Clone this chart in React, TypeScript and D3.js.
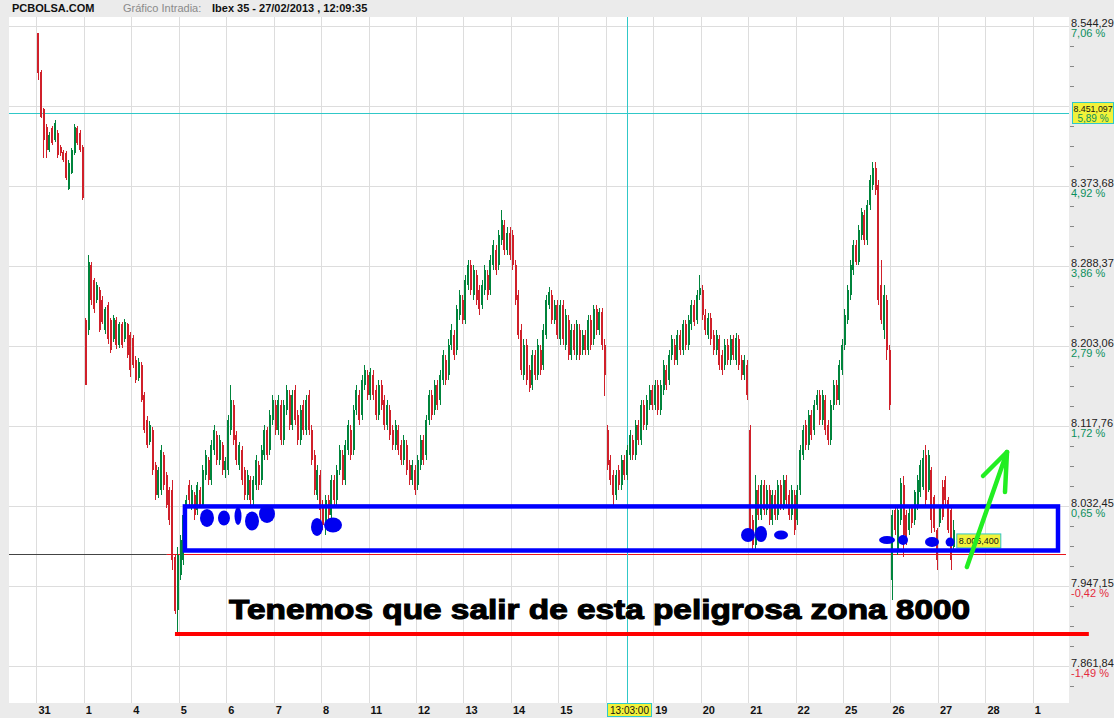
import React from 'react';
import * as d3 from 'd3';

// ---------- DATA ----------
const dayLabels = ["31","1","4","5","6","7","8","11","12","13","14","15","18","19","20","21","22","25","26","27","28","1"];
const priceTicks = [8544.29, 8458.99, 8373.68, 8288.37, 8203.06, 8117.76, 8032.45, 7947.15, 7861.84];
const priceTickLabels = ["8.544,29","8.458,99","8.373,68","8.288,37","8.203,06","8.117,76","8.032,45","7.947,15","7.861,84"];
const pctLabels = ["7,06 %","5,99 %","4,92 %","3,86 %","2,79 %","1,72 %","0,65 %","-0,42 %","-1,49 %"];
const prevClose = 7980.8;
const cursorLevel = 8451.097;
const cursorLevelLabel = "8.451,097";
const cursorLevelPct = "5,89 %";
const cursorDayPos = 12.447;
const cursorTimeLabel = "13:03:00";
const lastPriceLabel = "8.006,400";
const headerBrand = "PCBOLSA.COM";
const headerKind = "Gráfico Intradia:";
const headerTitle = "Ibex 35 - 27/02/2013 , 12:09:35";
const annotationText = "Tenemos que salir de esta peligrosa zona 8000";

// candles per session: [open, high, low, close]
const d31 = [
[8537,8537,8487,8494],[8495,8497,8446,8447],[8456,8457,8404,8423],[8437,8440,8404,8412],
[8412,8431,8410,8428],[8435,8438,8417,8419],[8423,8444,8421,8441],[8430,8433,8404,8407],
[8415,8417,8406,8409],[8410,8412,8399,8401],[8409,8411,8380,8382],[8371,8401,8369,8398],
[8388,8414,8386,8412],[8409,8440,8407,8437],[8435,8438,8417,8419],[8430,8433,8410,8412],
[8415,8417,8359,8361]];
const d01 = [
[8231,8233,8161,8162],[8220,8300,8215,8293],[8289,8293,8247,8252],[8273,8276,8238,8242],
[8252,8271,8249,8268],[8263,8266,8218,8220],[8252,8256,8226,8229],[8220,8245,8216,8242],
[8247,8250,8205,8210],[8231,8233,8196,8199],[8210,8236,8207,8233],[8231,8234,8200,8204],
[8204,8229,8201,8226],[8226,8229,8201,8204],[8210,8232,8207,8229],[8226,8228,8190,8194],
[8215,8218,8170,8178]];
const d04 = [
[8212,8215,8180,8183],[8188,8192,8164,8167],[8169,8190,8166,8186],[8183,8186,8143,8146],
[8151,8154,8110,8114],[8124,8128,8094,8098],[8101,8123,8097,8119],[8114,8117,8066,8071],
[8076,8079,8039,8044],[8044,8074,8041,8071],[8050,8098,8044,8092],[8087,8090,8050,8055],
[8066,8069,8030,8034],[8050,8053,8012,8018],[8050,8060,7964,7975],[7978,7980,7917,7920],
[7922,7989,7896,7980]];
const d05 = [
[7959,8001,7954,7996],[7975,8028,7970,8023],[8007,8044,8002,8039],[8055,8060,8034,8039],
[8034,8055,8028,8050],[8044,8047,8018,8023],[8028,8058,8023,8055],[8050,8053,8030,8034],
[8034,8076,8030,8071],[8066,8092,8060,8087],[8082,8085,8055,8060],[8060,8103,8055,8098],
[8092,8119,8087,8114],[8108,8112,8076,8082],[8082,8108,8076,8103],[8098,8101,8066,8071],
[8071,8085,8062,8080]];
const d06 = [
[8071,8130,8066,8124],[8114,8162,8108,8146],[8140,8146,8098,8103],[8108,8112,8076,8082],
[8076,8101,8071,8098],[8092,8096,8055,8060],[8071,8074,8039,8044],[8044,8071,8039,8066],
[8060,8064,8034,8039],[8039,8064,8034,8060],[8055,8087,8050,8082],[8076,8080,8050,8055],
[8060,8098,8055,8092],[8087,8119,8082,8114],[8114,8117,8082,8087],[8092,8135,8087,8130],
[8124,8151,8119,8146]];
const d07 = [
[8140,8146,8108,8114],[8114,8151,8108,8146],[8140,8146,8098,8103],[8103,8146,8098,8140],
[8135,8162,8130,8156],[8151,8156,8114,8119],[8119,8156,8114,8151],[8156,8162,8119,8124],
[8130,8135,8098,8103],[8103,8140,8098,8135],[8140,8146,8108,8114],[8114,8151,8108,8146],
[8151,8156,8108,8114],[8114,8119,8076,8082],[8087,8092,8044,8050],[8044,8076,8039,8071],
[8066,8071,8018,8028]];
const d08 = [
[8034,8039,8007,8012],[8012,8044,8002,8039],[8039,8044,8018,8023],[8023,8066,8018,8060],
[8060,8066,8034,8039],[8039,8076,8034,8071],[8071,8098,8066,8092],[8087,8092,8055,8060],
[8060,8103,8055,8098],[8092,8124,8087,8119],[8114,8119,8082,8087],[8092,8140,8087,8135],
[8135,8162,8130,8156],[8151,8156,8119,8124],[8130,8172,8124,8167],[8162,8183,8156,8178],
[8172,8178,8146,8151]];
const d11 = [
[8151,8180,8146,8175],[8172,8178,8146,8151],[8156,8162,8124,8130],[8130,8167,8124,8162],
[8162,8167,8135,8140],[8146,8151,8114,8119],[8119,8146,8114,8140],[8135,8140,8103,8108],
[8114,8119,8092,8098],[8098,8124,8092,8119],[8114,8119,8087,8092],[8098,8103,8076,8082],
[8082,8108,8076,8103],[8098,8103,8066,8071],[8076,8082,8055,8060],[8060,8082,8055,8076],
[8071,8076,8044,8050]];
const d12 = [
[8055,8087,8050,8082],[8076,8108,8071,8103],[8103,8108,8076,8082],[8087,8130,8082,8124],
[8124,8156,8119,8151],[8151,8156,8124,8130],[8135,8167,8130,8162],[8162,8167,8135,8140],
[8146,8178,8140,8172],[8167,8199,8162,8194],[8188,8194,8162,8167],[8172,8210,8167,8204],
[8204,8226,8199,8220],[8215,8220,8188,8194],[8199,8247,8194,8242],[8236,8263,8231,8257],
[8252,8257,8226,8231]];
const d13 = [
[8231,8279,8226,8273],[8268,8295,8263,8289],[8289,8295,8257,8263],[8257,8289,8252,8284],
[8279,8284,8247,8252],[8263,8268,8236,8242],[8247,8273,8242,8268],[8263,8289,8257,8284],
[8279,8284,8252,8257],[8263,8300,8257,8295],[8289,8316,8284,8311],[8305,8311,8279,8284],
[8289,8327,8284,8321],[8316,8348,8311,8337],[8332,8337,8300,8305],[8305,8330,8300,8324],
[8324,8330,8295,8300]];
const d14 = [
[8321,8327,8284,8289],[8289,8295,8247,8252],[8257,8263,8210,8215],[8220,8226,8172,8178],
[8172,8210,8167,8204],[8204,8210,8162,8167],[8178,8183,8154,8158],[8162,8199,8156,8194],
[8194,8199,8167,8172],[8172,8210,8167,8204],[8199,8204,8172,8178],[8183,8226,8178,8220],
[8215,8257,8210,8252],[8247,8266,8242,8261],[8257,8263,8226,8231],[8231,8252,8226,8247],
[8247,8252,8210,8215]];
const d15 = [
[8210,8252,8204,8247],[8247,8252,8204,8210],[8204,8242,8199,8236],[8231,8236,8188,8194],
[8194,8226,8188,8220],[8220,8226,8194,8199],[8194,8231,8188,8226],[8220,8226,8188,8194],
[8199,8220,8194,8215],[8215,8220,8194,8199],[8199,8236,8194,8231],[8231,8236,8199,8204],
[8210,8247,8204,8242],[8242,8247,8215,8220],[8220,8244,8215,8239],[8239,8244,8199,8204],
[8204,8210,8150,8172]];
const d18 = [
[8114,8119,8071,8076],[8082,8087,8055,8060],[8066,8071,8034,8044],[8044,8071,8039,8066],
[8071,8076,8050,8055],[8055,8087,8050,8082],[8082,8087,8060,8066],[8066,8098,8060,8092],
[8087,8114,8082,8108],[8103,8108,8082,8087],[8087,8124,8082,8119],[8119,8124,8098,8103],
[8103,8146,8098,8140],[8140,8146,8114,8119],[8119,8151,8114,8146],[8140,8162,8135,8156],
[8156,8162,8135,8140]];
const d19 = [
[8140,8167,8135,8162],[8162,8167,8130,8135],[8135,8167,8130,8162],[8156,8188,8151,8183],
[8178,8183,8156,8162],[8167,8199,8162,8194],[8194,8215,8188,8210],[8204,8210,8183,8188],
[8188,8220,8183,8215],[8215,8220,8194,8199],[8199,8231,8194,8226],[8226,8231,8199,8204],
[8204,8236,8199,8231],[8226,8252,8220,8247],[8247,8252,8224,8229],[8231,8263,8226,8257],
[8257,8279,8252,8265]];
const d20 = [
[8263,8268,8231,8236],[8236,8242,8215,8220],[8215,8238,8210,8233],[8233,8238,8204,8210],
[8215,8220,8194,8199],[8199,8220,8194,8215],[8210,8215,8178,8183],[8194,8199,8172,8178],
[8183,8210,8178,8204],[8204,8210,8183,8188],[8188,8215,8183,8210],[8210,8215,8188,8194],
[8188,8217,8183,8212],[8210,8215,8178,8183],[8188,8194,8167,8172],[8172,8194,8167,8188],
[8183,8188,8146,8151]];
const d21 = [
[8114,8119,8002,8007],[8018,8023,7986,7991],[7991,8066,7986,8050],[8050,8055,8018,8023],
[8023,8060,8018,8055],[8055,8060,8023,8028],[8028,8055,8023,8050],[8050,8055,8012,8018],
[8018,8050,8012,8044],[8044,8050,8018,8023],[8023,8060,8018,8055],[8055,8060,8028,8034],
[8034,8066,8028,8060],[8060,8066,8034,8039],[8044,8050,8018,8023],[8023,8055,8018,8050],
[8044,8050,8002,8007]];
const d22 = [
[8018,8055,8012,8050],[8050,8098,8044,8092],[8087,8119,8082,8114],[8119,8124,8092,8098],
[8098,8135,8092,8130],[8130,8135,8103,8108],[8114,8146,8108,8140],[8140,8156,8135,8151],
[8151,8156,8119,8124],[8124,8156,8119,8151],[8146,8151,8108,8114],[8119,8124,8098,8103],
[8103,8146,8098,8140],[8140,8167,8135,8162],[8162,8167,8140,8146],[8146,8188,8140,8183],
[8178,8210,8172,8204]];
const d25 = [
[8204,8242,8199,8236],[8231,8268,8226,8263],[8257,8295,8252,8289],[8284,8316,8279,8311],
[8311,8316,8289,8293],[8293,8332,8289,8327],[8321,8350,8316,8346],[8343,8348,8311,8316],
[8316,8359,8311,8353],[8353,8385,8348,8380],[8375,8399,8369,8393],[8393,8399,8364,8369],
[8375,8380,8247,8252],[8268,8295,8226,8231],[8220,8268,8210,8257],[8252,8257,8188,8199],
[8199,8204,8135,8140]];
const d26 = [
[7954,8028,7932,8023],[8028,8030,8002,8007],[7986,8034,7980,8028],[8018,8062,8012,8057],
[8055,8064,7978,8002],[8023,8028,7991,7996],[8007,8030,8002,8025],[8030,8034,8009,8014],
[8018,8050,8012,8047],[8034,8065,8028,8060],[8047,8082,8042,8076],[8053,8092,8050,8084],
[8087,8098,8034,8039],[8050,8092,8047,8087],[8071,8074,8004,8018],[8042,8044,8005,8009],
[8007,8009,7964,7975]];
const d27 = [
[8014,8034,8010,8030],[8053,8060,8018,8021],[8060,8064,8034,8039],[8039,8042,8004,8007],
[8028,8032,7964,7975],[7989,8018,7984,8006.4]];
const sessions = [d31,d01,d04,d05,d06,d07,d08,d11,d12,d13,d14,d15,d18,d19,d20,d21,d22,d25,d26,d27];

// hand-drawn annotations in chart coordinates: [day position, price]
const zoneBox = { from: 3.13, to: 21.53, top: 8032, bottom: 7985 };
const supportLine = { from: 2.92, to: 22.18, price: 7896 };
const blueMarks = [
  [3.595, 8019.7, 7, 9], [3.953, 8019.7, 6, 7.5], [4.249, 8021.8, 3.5, 9], [4.544, 8016.5, 7, 9.5],
  [4.860, 8024.0, 8, 9], [5.914, 8010.1, 6, 9], [6.251, 8012.2, 9, 7.5],
  [14.997, 8001.5, 7, 7], [15.271, 8002.6, 6, 8], [15.693, 8001.5, 7, 4.5],
  [17.927, 7996.2, 8, 4], [18.264, 7996.2, 5, 5], [18.875, 7994.0, 7, 5], [19.255, 7994.0, 4.5, 4.5],
];
const arrowFrom = [19.61, 7967.4];
const arrowTo = [20.455, 8090];
const textAnchorPos = [4.06, 7912];

const FONT = "'Liberation Sans', Arial, Helvetica, sans-serif";
const RED = "#d0202a";
const GREEN = "#00843c";
const PCT_GREEN = "#0b8f5c";
const PCT_RED = "#e42a3c";
const TEAL = "#30c8c8";
const YELLOW = "#f2f23a";

export default function App() {
  const W = 1114, H = 718;
  const plot = { left: 9, right: 1069, top: 17, bottom: 703 };
  const y = d3.scaleLinear().domain([7861.84, 8544.29]).range([666, 26]);
  const x = d3.scaleLinear().domain([0, 21]).range([36.4, 1032.85]);
  const SLOTS = 17;
  const tickStep = priceTicks[0] - priceTicks[1];

  const candles = sessions.flatMap((day, d) =>
    day.map((c, k) => ({ pos: d + (k + 0.5) / SLOTS, o: c[0], h: c[1], l: c[2], c: c[3] }))
  );
  const last = candles[candles.length - 1];
  const lastX = x(last.pos);

  const minorTicks = priceTicks.flatMap((v) => [1, 2, 3].map((i) => v - (tickStep * i) / 4));

  const cursorX = Math.round(x(cursorDayPos)) + 0.5;
  const cursorY = Math.round(y(cursorLevel)) + 0.5;
  const refY = Math.round(y(prevClose)) + 0.5;

  const timeBox = { x0: cursorX - 20, x1: cursorX + 24 };
  const levelBox = { y0: cursorY - 11, y1: cursorY + 10 };

  const ax1 = x(arrowFrom[0]), ay1 = y(arrowFrom[1]);
  const ax2 = x(arrowTo[0]), ay2 = y(arrowTo[1]);

  return (
    <svg width={W} height={H} style={{ position: 'absolute', left: 0, top: 0, background: '#ebebeb' }} fontFamily={FONT}>
      <rect x={0} y={0} width={W} height={H} fill="#ebebeb" />
      <rect x={plot.left} y={plot.top} width={plot.right - plot.left} height={plot.bottom - plot.top} fill="#ffffff" />

      {/* header */}
      <text x={12} y={12} fontSize={11} fontWeight="bold" fill="#111">{headerBrand}</text>
      <text x={123} y={12} fontSize={11} fill="#8a8a8a">{headerKind}</text>
      <text x={212} y={12} fontSize={11} fontWeight="bold" fill="#111">{headerTitle}</text>

      {/* grid */}
      {priceTicks.map((v, i) => (
        <line key={'hg' + i} x1={plot.left} x2={plot.right} y1={Math.round(y(v)) + 0.5} y2={Math.round(y(v)) + 0.5} stroke="#dddddd" />
      ))}
      {dayLabels.map((_, i) => (
        <line key={'vg' + i} x1={Math.round(x(i)) + 0.5} x2={Math.round(x(i)) + 0.5} y1={plot.top} y2={plot.bottom} stroke="#dddddd" />
      ))}

      {/* reference lines */}
      <line x1={plot.left} x2={x(2.75)} y1={refY} y2={refY} stroke="#444" />
      <line x1={x(2.75)} x2={plot.right - 3} y1={refY} y2={refY} stroke="#e8141c" />
      <line x1={plot.left} x2={plot.right} y1={cursorY} y2={cursorY} stroke={TEAL} />
      <line x1={cursorX} x2={cursorX} y1={plot.top} y2={plot.bottom} stroke={TEAL} />

      {/* candles */}
      <g shapeRendering="crispEdges">
        {candles.map((c, i) => {
          const cx = x(c.pos);
          const col = c.c >= c.o ? GREEN : RED;
          const top = y(Math.max(c.o, c.c));
          const bot = y(Math.min(c.o, c.c));
          return (
            <g key={'c' + i}>
              <rect x={Math.round(cx)} y={y(c.h)} width={1} height={Math.max(1, y(c.l) - y(c.h))} fill={col} />
              <rect x={Math.round(cx - 0.5)} y={top} width={2} height={Math.max(1, bot - top)} fill={col} />
            </g>
          );
        })}
      </g>

      {/* right axis */}
      {priceTicks.map((v, i) => {
        const ty = Math.round(y(v));
        if (ty - 10 < levelBox.y1 && ty + 12 > levelBox.y0) return null; // hidden behind cursor level box
        return (
          <g key={'pt' + i}>
            <text x={1071} y={ty + 1} fontSize={11} fill="#222">{priceTickLabels[i]}</text>
            <text x={1071} y={ty + 11} fontSize={11} fill={i >= 7 ? PCT_RED : PCT_GREEN}>{pctLabels[i]}</text>
          </g>
        );
      })}
      {minorTicks.filter((v) => y(v) < plot.bottom).map((v, i) => (
        <line key={'mt' + i} x1={1070} x2={1074} y1={Math.round(y(v)) + 0.5} y2={Math.round(y(v)) + 0.5} stroke="#888" />
      ))}
      <g>
        <rect x={1072.5} y={levelBox.y0} width={41} height={levelBox.y1 - levelBox.y0} fill={YELLOW} stroke={TEAL} />
        <text x={1073.5} y={cursorY - 2} fontSize={8.8} fill="#111">{cursorLevelLabel}</text>
        <text x={1093} y={cursorY + 8.5} fontSize={10} fill={PCT_GREEN} textAnchor="middle">{cursorLevelPct}</text>
      </g>

      {/* bottom axis */}
      {dayLabels.map((lab, i) => {
        const lx = x(i) + 2;
        if (lx + 12 > timeBox.x0 && lx < timeBox.x1) return null; // hidden behind cursor time box
        return <text key={'dl' + i} x={lx} y={714} fontSize={11} fontWeight="bold" fill="#111">{lab}</text>;
      })}
      <rect x={timeBox.x0} y={703.5} width={timeBox.x1 - timeBox.x0} height={13} fill={YELLOW} stroke={TEAL} />
      <text x={cursorX + 2} y={714} fontSize={10} fill="#111" textAnchor="middle">{cursorTimeLabel}</text>

      {/* last price label */}
      <rect x={lastX + 3.5} y={y(last.c) + 3.5} width={44} height={14} fill={YELLOW} stroke={TEAL} />
      <text x={lastX + 25.5} y={y(last.c) + 14} fontSize={9.5} fill="#111" textAnchor="middle" textLength={40} lengthAdjust="spacingAndGlyphs">{lastPriceLabel}</text>

      {/* hand annotations */}
      <rect x={x(zoneBox.from)} y={y(zoneBox.top)} width={x(zoneBox.to) - x(zoneBox.from)} height={y(zoneBox.bottom) - y(zoneBox.top)}
        fill="none" stroke="#0000ff" strokeWidth={4.5} />
      {blueMarks.map((m, i) => (
        <ellipse key={'bm' + i} cx={x(m[0])} cy={y(m[1])} rx={m[2]} ry={m[3]} fill="#0000f0" />
      ))}
      <line x1={x(supportLine.from)} x2={x(supportLine.to)} y1={y(supportLine.price)} y2={y(supportLine.price)} stroke="#ff0000" strokeWidth={4} />
      <text x={x(textAnchorPos[0])} y={y(textAnchorPos[1])} fontSize={28} fontWeight="bold" fill="#000" stroke="#000" strokeWidth={1.1}
        textLength={741} lengthAdjust="spacingAndGlyphs">{annotationText}</text>
      <g stroke="#22ee22" strokeWidth={4.5} strokeLinecap="round" fill="none">
        <line x1={ax1} y1={ay1} x2={ax2} y2={ay2} />
        <line x1={ax2} y1={ay2} x2={ax2 - 24} y2={ay2 + 24} />
        <line x1={ax2} y1={ay2} x2={ax2 - 2} y2={ay2 + 40} />
      </g>
    </svg>
  );
}
